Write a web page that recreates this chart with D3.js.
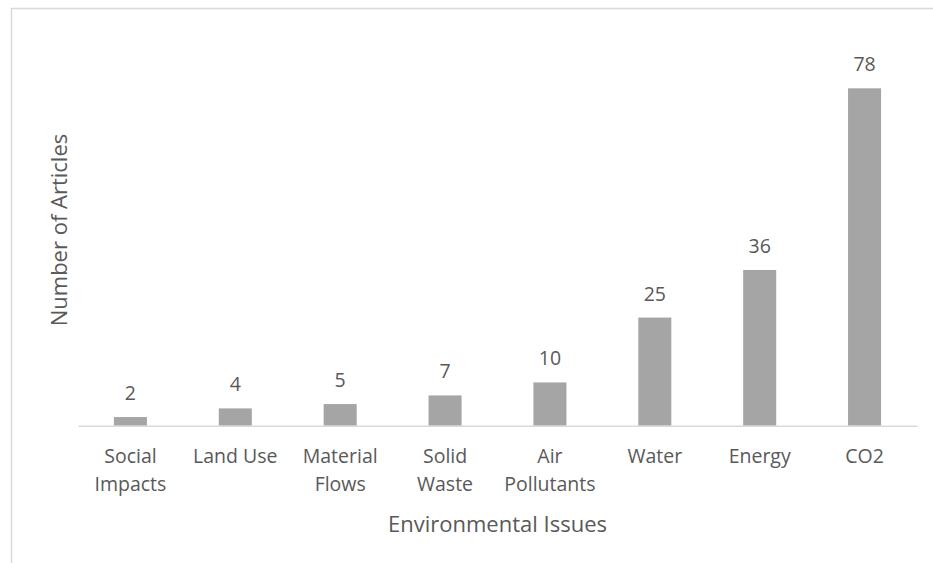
<!DOCTYPE html>
<html>
<head>
<meta charset="utf-8">
<script src="https://cdn.jsdelivr.net/npm/d3@7"></script>
<style>
  html, body { margin: 0; padding: 0; background: #ffffff; }
  svg { display: block; }
  text { font-family: "Open Sans", "Noto Sans", sans-serif; fill: #595959; }
</style>
</head>
<body>
<svg id="chart" width="933" height="563"></svg>
<script>
// Articles per environmental issue
const categories = ["Social\nImpacts", "Land Use", "Material\nFlows", "Solid\nWaste", "Air\nPollutants", "Water", "Energy", "CO2"];
const articleCounts = [2, 4, 5, 7, 10, 25, 36, 78];
const xTitle = "Environmental Issues";
const yTitle = "Number of Articles";

const svg = d3.select("#chart");
const W = 933, H = 563;
const plot = { left: 78, right: 917, top: 36.4, bottom: 425.7 };

// chart frame (runs past the right and bottom edges)
svg.append("rect")
  .attr("x", 11.5).attr("y", 8.5)
  .attr("width", W + 20).attr("height", H + 20)
  .attr("fill", "none").attr("stroke", "#d9d9d9").attr("stroke-width", 1.5);

const x = d3.scaleBand()
  .domain(categories)
  .range([plot.left, plot.right])
  .paddingInner(0.685)
  .paddingOuter(0.3425);

const y = d3.scaleLinear()
  .domain([0, 90])
  .range([plot.bottom, plot.top]);

const data = categories.map((c, i) => ({ cat: c, value: articleCounts[i] }));

// bars
svg.append("g").selectAll("rect")
  .data(data)
  .join("rect")
  .attr("x", d => x(d.cat))
  .attr("y", d => y(d.value))
  .attr("width", x.bandwidth())
  .attr("height", d => y(0) - y(d.value))
  .attr("fill", "#a5a5a5");

// value labels
svg.append("g").selectAll("text")
  .data(data)
  .join("text")
  .attr("x", d => x(d.cat) + x.bandwidth() / 2)
  .attr("y", d => y(d.value) - 17)
  .attr("text-anchor", "middle")
  .style("font-size", "19.5px")
  .text(d => d.value);

// category axis
const xAxis = svg.append("g")
  .attr("transform", `translate(0,${plot.bottom})`)
  .call(d3.axisBottom(x).tickSize(0).tickFormat(""));
xAxis.select(".domain").attr("stroke", "#d9d9d9").attr("stroke-width", 1.5);

const tickLabels = svg.append("g").selectAll("text")
  .data(categories)
  .join("text")
  .attr("x", d => x(d) + x.bandwidth() / 2)
  .attr("y", 463)
  .attr("text-anchor", "middle")
  .style("font-size", "19.5px");
tickLabels.each(function (d) {
  const t = d3.select(this);
  const cx = x(d) + x.bandwidth() / 2;
  d.split("\n").forEach((line, i) => {
    t.append("tspan").attr("x", cx).attr("dy", i === 0 ? 0 : 28).text(line);
  });
});

// axis titles
svg.append("text")
  .attr("x", (plot.left + plot.right) / 2)
  .attr("y", 531.5)
  .attr("text-anchor", "middle")
  .style("font-size", "22px")
  .text(xTitle);

svg.append("text")
  .attr("transform", `translate(67,230) rotate(-90)`)
  .attr("text-anchor", "middle")
  .style("font-size", "22px")
  .text(yTitle);
</script>
</body>
</html>
